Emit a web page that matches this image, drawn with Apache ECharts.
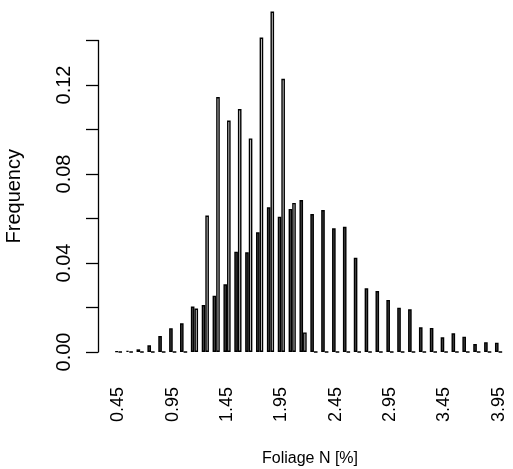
<!DOCTYPE html>
<html>
<head>
<meta charset="utf-8">
<script src="https://cdn.jsdelivr.net/npm/echarts@6/dist/echarts.min.js"></script>
<style>
  html, body { margin: 0; padding: 0; background: #fff; }
  #myChart { width: 513px; height: 469px; }
</style>
</head>
<body>
<div id="myChart"></div>
<script>
  // class midpoints of foliage N [%]
  var categories = ['0.45', '0.55', '0.65', '0.75', '0.85', '0.95', '1.05', '1.15', '1.25', '1.35',
    '1.45', '1.55', '1.65', '1.75', '1.85', '1.95', '2.05', '2.15', '2.25', '2.35',
    '2.45', '2.55', '2.65', '2.75', '2.85', '2.95', '3.05', '3.15', '3.25', '3.35',
    '3.45', '3.55', '3.65', '3.75', '3.85', '3.95']
  // dark bars
  var freqDark = [0.0003, 0.0006, 0.0012, 0.003, 0.0072, 0.0107, 0.0129, 0.0204, 0.0211, 0.0253,
    0.0304, 0.0451, 0.0448, 0.0538, 0.065, 0.0608, 0.0643, 0.0683, 0.062, 0.0638,
    0.0556, 0.0563, 0.0424, 0.0286, 0.0274, 0.0234, 0.0199, 0.0192, 0.0111, 0.0108,
    0.0066, 0.0084, 0.0069, 0.0036, 0.0044, 0.0042]
  // light bars
  var freqLight = [0, 0, 0, 0, 0, 0, 0, 0.0195, 0.0613, 0.1146,
    0.104, 0.1092, 0.096, 0.1413, 0.153, 0.1228, 0.067, 0.0088, 0, 0,
    0, 0, 0, 0, 0, 0, 0, 0, 0, 0,
    0, 0, 0, 0, 0, 0]

  var font = 'Liberation Sans'

  var option = {
    animation: false,
    title: {
      text: 'Foliage N [%]',
      left: 257,
      top: 446,
      textStyle: { fontFamily: font, fontSize: 16, fontWeight: 'normal', color: '#000' }
    },
    grid: { left: 113, width: 391, top: 40.5, height: 311.5, containLabel: false, outerBoundsMode: 'none' },
    xAxis: {
      type: 'category',
      data: categories,
      axisLine: { show: false },
      axisTick: { show: false },
      axisLabel: {
        interval: 4,
        rotate: 90,
        margin: 35,
        padding: [0, 0, 8, 0],
        fontFamily: font,
        fontSize: 18,
        color: '#000'
      }
    },
    yAxis: {
      type: 'value',
      min: 0,
      max: 0.14,
      interval: 0.02,
      offset: 15,
      name: 'Frequency',
      nameLocation: 'middle',
      nameRotate: 90,
      nameGap: 74,
      nameTextStyle: { fontFamily: font, fontSize: 20, color: '#000' },
      splitLine: { show: false },
      axisLine: { show: true, lineStyle: { color: '#000', width: 1.3 } },
      axisTick: { show: true, length: 12, lineStyle: { color: '#000', width: 1.3 } },
      axisLabel: {
        rotate: 90,
        margin: 24,
        fontFamily: font,
        fontSize: 20,
        color: '#000',
        formatter: function (v) {
          return Math.round(v * 100) % 4 === 0 ? v.toFixed(2) : ''
        }
      }
    },
    series: [{
      name: 'dark',
      type: 'bar',
      data: freqDark,
      barWidth: 3.6,
      barGap: '0%',
      clip: false,
      itemStyle: { color: '#4D4D4D', borderColor: '#000', borderWidth: 1.4 }
    },
    {
      name: 'light',
      type: 'bar',
      data: freqLight,
      barWidth: 3.6,
      clip: false,
      itemStyle: { color: '#E6E6E6', borderColor: '#000', borderWidth: 1.4 }
    }]
  }

  var myChart = echarts.init(document.getElementById('myChart'))
  myChart.setOption(option)
</script>
</body>
</html>
